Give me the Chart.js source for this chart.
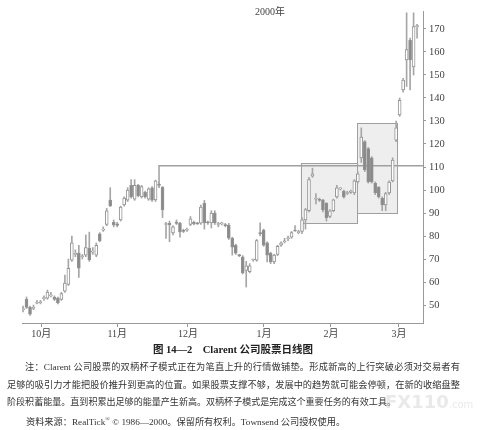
<!DOCTYPE html>
<html>
<head>
<meta charset="utf-8">
<script src="https://cdn.jsdelivr.net/npm/chart.js@4"></script>
<style>
  body { margin: 0; background: #fff; width: 481px; height: 430px; overflow: hidden; position: relative; }
  #wrap { position: absolute; left: 0; top: 0; width: 481px; height: 345px; }
  .txt { position: absolute; white-space: nowrap; color: #333;
         font-family: 'Liberation Serif', 'Noto Sans CJK SC', serif; }
  .just { text-align: justify; text-align-last: justify; white-space: normal; }
</style>
</head>
<body>
<div id="wrap"><canvas id="chartClarent"></canvas></div>
<div class="txt" style="left:255px;top:6px;font-size:10px;line-height:12px;color:#444;">2000年</div>
<div class="txt" style="left:0;width:466px;top:343px;font-size:10.5px;line-height:14px;font-weight:bold;text-align:center;color:#222;">图 14—2　Clarent 公司股票日线图</div>
<div class="txt just" style="left:25px;width:435px;top:361px;font-size:9.2px;line-height:12px;">注：Clarent 公司股票的双柄杯子模式正在为笔直上升的行情做铺垫。形成新高的上行突破必须对交易者有</div>
<div class="txt just" style="left:7px;width:453px;top:379px;font-size:9.2px;line-height:12px;">足够的吸引力才能把股价推升到更高的位置。如果股票支撑不够，发展中的趋势就可能会停顿，在新的收缩盘整</div>
<div class="txt" style="left:7px;top:396px;font-size:9.05px;line-height:12px;">阶段积蓄能量。直到积累出足够的能量产生新高。双柄杯子模式是完成这个重要任务的有效工具。</div>
<div class="txt" style="left:385px;top:392px;font-size:18px;line-height:20px;font-weight:bold;color:rgba(200,200,200,0.4);font-family:'DejaVu Sans',sans-serif;">FX110<span style="font-size:10px;font-weight:normal;">.com</span></div>
<div class="txt" style="left:26px;top:413px;font-size:9.2px;line-height:12px;">资料来源：RealTick<sup style="font-size:6px;">®</sup> © 1986—2000。保留所有权利。Townsend 公司授权使用。</div>

<script>
// 日线数据（1999年9月底 - 2000年3月初）
const opens  = [48,52.5,49,48.5,50.8,51,52.8,53,54,53.5,53,52.5,56,59,69.5,72,72.6,71,71.7,74.8,73,71.7,81,82.5,85,
  95.6,86,85.3,87,93.5,95.6,102,96,102,97,99,96,101,95.7,102.5,101.3,85,85.5,81.3,85.7,85.6,82.2,82.5,85,86,
  85.5,85.6,94.3,86,85.7,90,85,85.3,84.8,84.8,79,76,71.7,71,65,64.5,69.6,69.5,81.5,82.6,77,72.6,68.7,72,76,
  77.5,78.8,79.5,82.5,81.5,82,87,91,106,96,96,95.7,94.3,88.5,91,97,100.5,99.5,98.5,99,98.7,103.5,114,121,118,
  114,103,101.3,96.5,93.5,98.7,104,121.7,132.6,143.5,156.5,165,153.5,171];
const highs  = [49.5,53.5,49.5,50,52,52,54,56.5,55.5,54,53.5,55.5,63,70,80,74,76,72,80.5,81.7,75,77,81.5,84,92,
  101,87,86,93,97,101,104.5,104.5,102.5,102,99.5,101,101.5,104.3,103.5,101.5,86,86.5,84.5,87,86,83,83.5,88.5,86.5,
  86,93.5,95.5,86.5,91,91,86,86,85.5,85.5,79.5,76.5,72,71.5,69,68,70,78.5,85.7,83,77.5,73,72,76,77.5,
  79,80,82,84.5,82.5,88,92,105.5,109.5,98.5,96.5,96,94.5,91.5,96,102,101,100,99.5,100,104.5,108,127,121.5,118.5,
  114.5,103.5,101.5,97,99,104,114,130,140,148.5,177,166,177,172];
const lows   = [47,48.5,45.5,48,50.5,50.5,52,52.5,53.5,52,50.5,52,55.5,58.5,69,71,62,70,71,69,72,71,77.5,82,84.5,
  92.8,84,84,86.5,93,95,96.5,95.5,97,96.5,96.5,95.5,95,95,101,88,79,77.5,80.5,85,79.5,81.5,82,84.5,84.8,
  85,85,83,85,83.5,85,84,84.8,84,78.5,71.7,72,71,63.5,57.8,64,69,69,80,75.5,68.7,68,68,71.5,75.5,
  77,78,79,82,81,81,83,90.5,105.5,94,95,90.5,86.5,88,90.5,96.5,100,96.5,98,98.5,98,103,112,108,103,
  103,98,96.5,91,91,98,103.5,121,132,142.5,145,143.5,150,166];
const closes = [48.5,49,46,49,51.2,51.3,53.2,55.6,54.3,52.5,51,55,59.6,66,77,72.5,66,71.3,75,69.6,73.5,76,78,83,91,
  93.1,84.8,84.6,92.6,96.5,100,97,102,97.5,101.5,97,100.5,95.6,104,102,91.3,85.3,84.8,84,85.5,81.8,82,82.8,87.5,85.3,
  85.3,92.6,85.7,85.7,90,85.7,85,85.5,84.5,79.1,75.2,72.6,71.5,64,67,67,69.8,78,81,76,71.7,68.7,71.7,75.5,77,
  77.5,78.8,81.5,82.2,81.8,87,91.5,104.5,107,96,95.5,91.3,88,91,95.7,101,100.7,97,98.7,99.5,104,107,123,108.7,103.5,
  103.5,98.7,97,93.5,98.5,103.5,113,127,139,147.8,161,156.5,171,171.5];

// 坐标轴
const monthLabels = ['10月', '11月', '12月', '1月', '2月', '3月'];
const monthTickPos = [5.2, 27, 47.3, 69.1, 88.3, 107.8];
const priceTicks = [50, 60, 70, 80, 90, 100, 110, 120, 130, 140, 150, 160, 170];

// 阻力线(110) 与两个杯柄区域 [起, 止, 上沿, 下沿]
const resistX = [39, 39, 114.7];
const resistY = [102, 110.5, 110.5];
const cupBoxes = [[79.6, 95.8, 111.6, 85.5], [95.8, 107.3, 129, 89.9]];

const bodies = opens.map((o, i) => ({ x: i, y: [o, closes[i]] }));
const wicks = lows.map((l, i) => ({ x: i, y: [l, highs[i]] }));
const bodyFill = opens.map((o, i) => closes[i] >= o ? '#ffffff' : '#8a8a8a');

const boxPlugin = {
  id: 'cupBoxes',
  beforeDatasetsDraw(chart) {
    const { ctx, scales: { x, y } } = chart;
    ctx.save();
    cupBoxes.forEach(b => {
      const x0 = x.getPixelForValue(b[0]), x1 = x.getPixelForValue(b[1]);
      const y0 = y.getPixelForValue(b[2]), y1 = y.getPixelForValue(b[3]);
      ctx.fillStyle = 'rgba(200,200,200,0.3)';
      ctx.fillRect(x0, y0, x1 - x0, y1 - y0);
      ctx.strokeStyle = '#a0a0a0';
      ctx.lineWidth = 1;
      ctx.strokeRect(Math.round(x0) + 0.5, Math.round(y0) + 0.5, Math.round(x1 - x0), Math.round(y1 - y0));
    });
    ctx.restore();
  }
};

const serif = "'Liberation Serif', 'Noto Sans CJK SC', serif";

new Chart(document.getElementById('chartClarent'), {
  type: 'bar',
  data: {
    datasets: [
      {
        label: '实体',
        data: bodies,
        backgroundColor: bodyFill,
        borderColor: '#939393',
        borderWidth: 1,
        borderSkipped: false,
        barThickness: 3,
        minBarLength: 1,
        grouped: false
      },
      {
        label: '影线',
        data: wicks,
        backgroundColor: '#a6a6a6',
        borderWidth: 0,
        barThickness: 1,
        grouped: false
      },
      {
        type: 'line',
        label: '110',
        data: resistX.map((v, i) => ({ x: v, y: resistY[i] })),
        borderColor: '#a0a0a0',
        borderWidth: 1.5,
        pointRadius: 0,
        tension: 0
      }
    ]
  },
  options: {
    responsive: true,
    maintainAspectRatio: false,
    animation: false,
    layout: { padding: { left: 22, top: 11, right: 0, bottom: 0 } },
    plugins: { legend: { display: false }, tooltip: { enabled: false } },
    scales: {
      x: {
        type: 'linear',
        min: -0.3,
        max: 114.7,
        offset: false,
        grid: { display: true, drawOnChartArea: false, offset: false, tickLength: 4, color: '#999' },
        border: { display: true, color: '#999', dash: [1, 2] },
        afterBuildTicks: s => { s.ticks = monthTickPos.map(v => ({ value: v })); },
        afterFit: s => { s.height = 22; },
        ticks: {
          autoSkip: false,
          maxRotation: 0,
          padding: 1,
          color: '#444',
          font: { family: serif, size: 10 },
          callback: (v, i) => monthLabels[i]
        }
      },
      y: {
        position: 'right',
        min: 42.2,
        max: 177.8,
        beginAtZero: false,
        grid: { drawOnChartArea: false, tickLength: 3, color: '#999' },
        border: { display: true, color: '#999' },
        afterBuildTicks: s => { s.ticks = priceTicks.map(v => ({ value: v })); },
        afterFit: s => { s.width = 58; },
        ticks: { padding: 3, color: '#444', font: { family: serif, size: 10.5 } }
      }
    }
  },
  plugins: [boxPlugin]
});
</script>
</body>
</html>
